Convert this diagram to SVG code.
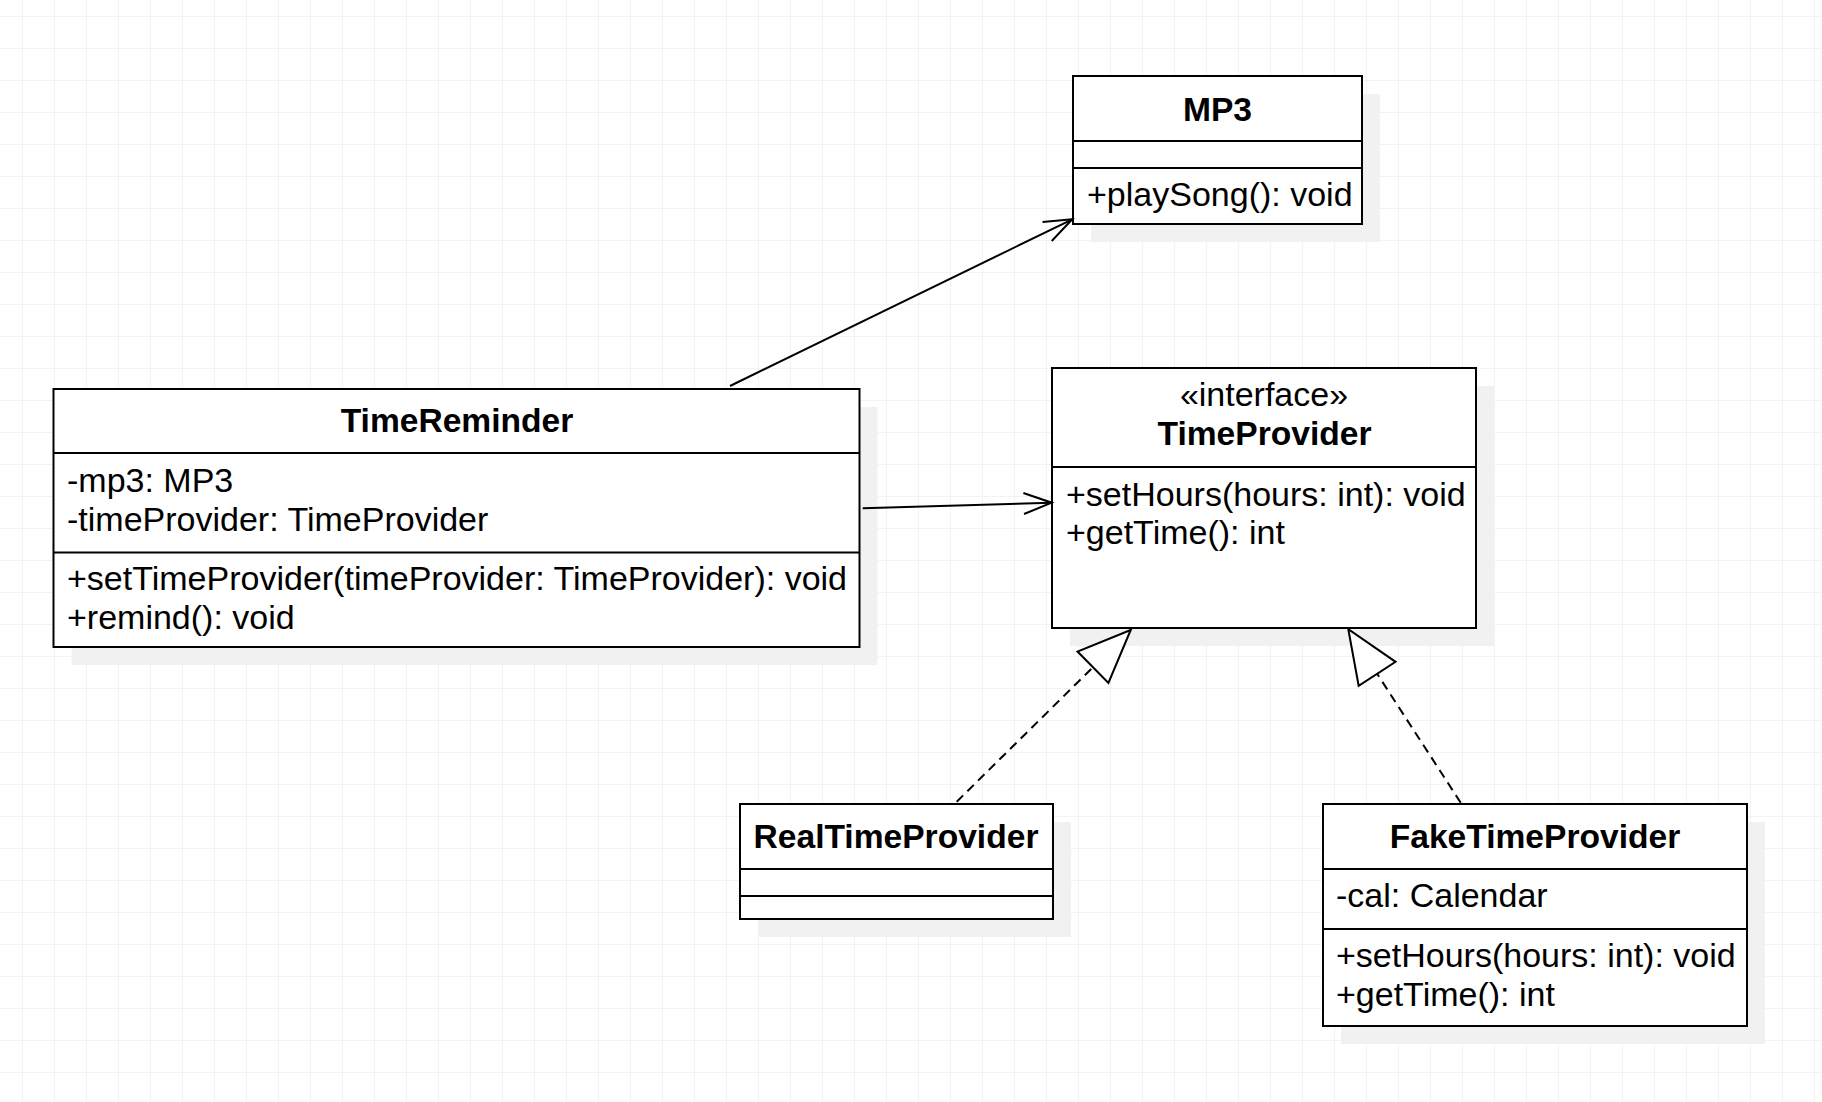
<svg xmlns="http://www.w3.org/2000/svg" width="1822" height="1102" viewBox="0 0 1822 1102">
<style>
.box{fill:#ffffff;stroke:#000000;stroke-width:2}
.shadow{fill:#f1f1f1;stroke:none}
.div{stroke:#000000;stroke-width:2}
.t{font-family:"Liberation Sans",Arial,sans-serif;font-size:34px;fill:#000000}
.b{font-weight:bold;font-size:33.6px}
.c{text-anchor:middle}
.conn{fill:none;stroke:#000000;stroke-width:2}
.dash{stroke-dasharray:9 6}
</style>
<defs>
<pattern id="grid" x="22" y="16" width="32" height="32" patternUnits="userSpaceOnUse">
<path d="M 0 0 L 32 0 M 0 0 L 0 32" fill="none" stroke="#efefef" stroke-width="1.5"/>
</pattern>
<marker id="open" markerUnits="userSpaceOnUse" markerWidth="60" markerHeight="60" refX="0" refY="0" viewBox="-40 -30 60 60" orient="auto" overflow="visible">
<path d="M -28 -10.5 L 0 0 L -28 10.5" fill="none" stroke="#000000" stroke-width="2"/>
</marker>
<marker id="tri" markerUnits="userSpaceOnUse" markerWidth="80" markerHeight="80" refX="0" refY="0" viewBox="-60 -40 80 80" orient="auto" overflow="visible">
<path d="M 0 0 L -53 -22 L -53 22 Z" fill="#ffffff" stroke="#000000" stroke-width="2" stroke-dasharray="none"/>
</marker>
</defs>
<rect x="0" y="0" width="1822" height="1102" fill="#ffffff"/>
<rect x="0" y="0" width="1822" height="1102" fill="url(#grid)"/>

<g id="MP3">
<rect class="shadow" x="1091" y="94" width="289" height="148"/>
<rect class="box" x="1073" y="76" width="289" height="148"/>
<line class="div" x1="1073" y1="141" x2="1362" y2="141"/>
<line class="div" x1="1073" y1="168" x2="1362" y2="168"/>
<text class="t b c" x="1217.5" y="121">MP3</text>
<text class="t" x="1087" y="206">+playSong(): void</text>
</g>

<g id="TimeReminder">
<rect class="shadow" x="71.5" y="407" width="806" height="258"/>
<rect class="box" x="53.5" y="389" width="806" height="258"/>
<line class="div" x1="53.5" y1="453" x2="859.5" y2="453"/>
<line class="div" x1="53.5" y1="552.5" x2="859.5" y2="552.5"/>
<text class="t b c" x="457" y="432">TimeReminder</text>
<text class="t" x="67" y="492">-mp3: MP3</text>
<text class="t" x="67" y="531">-timeProvider: TimeProvider</text>
<text class="t" x="67" y="590">+setTimeProvider(timeProvider: TimeProvider): void</text>
<text class="t" x="67" y="629">+remind(): void</text>
</g>

<g id="TimeProvider">
<rect class="shadow" x="1070" y="386" width="424" height="260"/>
<rect class="box" x="1052" y="368" width="424" height="260"/>
<line class="div" x1="1052" y1="467" x2="1476" y2="467"/>
<text class="t c" x="1264" y="406">«interface»</text>
<text class="t b c" x="1264.5" y="445">TimeProvider</text>
<text class="t" x="1066" y="505.5">+setHours(hours: int): void</text>
<text class="t" x="1066" y="544">+getTime(): int</text>
</g>

<g id="RealTimeProvider">
<rect class="shadow" x="758" y="822" width="313" height="115"/>
<rect class="box" x="740" y="804" width="313" height="115"/>
<line class="div" x1="740" y1="869" x2="1053" y2="869"/>
<line class="div" x1="740" y1="896" x2="1053" y2="896"/>
<text class="t b c" x="896" y="848">RealTimeProvider</text>
</g>

<g id="FakeTimeProvider">
<rect class="shadow" x="1341" y="822" width="424" height="222"/>
<rect class="box" x="1323" y="804" width="424" height="222"/>
<line class="div" x1="1323" y1="869" x2="1747" y2="869"/>
<line class="div" x1="1323" y1="929" x2="1747" y2="929"/>
<text class="t b c" x="1535" y="848">FakeTimeProvider</text>
<text class="t" x="1336" y="907">-cal: Calendar</text>
<text class="t" x="1336" y="967">+setHours(hours: int): void</text>
<text class="t" x="1336" y="1006">+getTime(): int</text>
</g>

<g id="connectors">
<path class="conn" d="M 730 386 L 1072.3 219.3" marker-end="url(#open)"/>
<path class="conn" d="M 862.7 508.3 L 1051.7 502.7" marker-end="url(#open)"/>
<path class="conn dash" d="M 956.7 801.7 L 1130.7 630" marker-end="url(#tri)"/>
<path class="conn dash" d="M 1460.7 802.7 L 1348.3 629.3" marker-end="url(#tri)"/>
</g>
</svg>
